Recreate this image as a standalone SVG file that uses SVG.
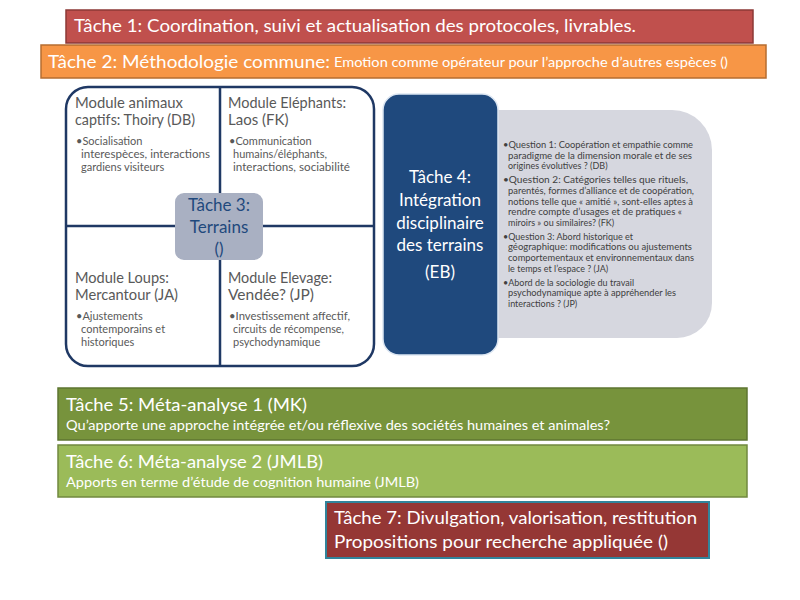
<svg xmlns="http://www.w3.org/2000/svg" width="800" height="600" viewBox="0 0 800 600">
<style>
text{font-family:Lato,"Liberation Sans",sans-serif}
.w{fill:#ffffff}
.mt{fill:#595959;font-size:15px}
.mb{fill:#595959;font-size:11px}
.q{fill:#404040;font-size:9px}
.t4{fill:#ffffff;font-size:17px;text-anchor:middle}
.t3{fill:#1f497d;font-size:17px;text-anchor:middle}
.frame{fill:none;stroke:#1f3864;stroke-width:2.5}
</style>
<rect width="800" height="600" fill="#ffffff"/>
<g id="tache1">
<rect x="66" y="10" width="687" height="33" fill="#c0504d" stroke="#8c3836" stroke-width="1.5"/>
<text x="74" y="32" class="w" font-size="18" textLength="562" lengthAdjust="spacingAndGlyphs">Tâche 1: Coordination, suivi et actualisation des protocoles, livrables.</text>
</g>
<g id="tache2">
<rect x="41" y="45" width="725" height="33" fill="#f79646" stroke="#b66d31" stroke-width="1.5"/>
<text x="48" y="68" class="w" font-size="18" textLength="282" lengthAdjust="spacingAndGlyphs">Tâche 2: Méthodologie commune:</text>
<text x="334" y="67" class="w" font-size="13" textLength="394" lengthAdjust="spacingAndGlyphs">Emotion comme opérateur pour l’approche d’autres espèces ()</text>
</g>
<g id="tache3">
<rect x="66" y="87" width="308" height="279" rx="22" class="frame"/>
<line x1="220" y1="87" x2="220" y2="366" class="frame"/>
<line x1="66" y1="226" x2="374" y2="226" class="frame"/>
<rect x="175" y="193" width="88" height="67" rx="9" fill="#a9b0c2"/>
<text x="219" y="211" class="t3">Tâche 3:</text>
<text x="219" y="233" class="t3">Terrains</text>
<text x="219" y="255" class="t3">()</text>
</g>
<g id="module-captifs">
<text x="75" y="108" class="mt" textLength="108" lengthAdjust="spacingAndGlyphs">Module animaux</text>
<text x="75" y="125" class="mt" textLength="120" lengthAdjust="spacingAndGlyphs">captifs: Thoiry (DB)</text>
<text x="76" y="145" class="mb">•Socialisation</text>
<text x="81" y="158" class="mb" textLength="129" lengthAdjust="spacingAndGlyphs">interespèces, interactions</text>
<text x="81" y="171" class="mb">gardiens visiteurs</text>
</g>
<g id="module-elephants">
<text x="228" y="108" class="mt" textLength="118" lengthAdjust="spacingAndGlyphs">Module Eléphants:</text>
<text x="228" y="125" class="mt">Laos (FK)</text>
<text x="229" y="145" class="mb">•Communication</text>
<text x="233" y="158" class="mb">humains/éléphants,</text>
<text x="233" y="171" class="mb" textLength="117" lengthAdjust="spacingAndGlyphs">interactions, sociabilité</text>
</g>
<g id="module-loups">
<text x="75" y="283" class="mt" textLength="94" lengthAdjust="spacingAndGlyphs">Module Loups:</text>
<text x="75" y="300" class="mt" textLength="103" lengthAdjust="spacingAndGlyphs">Mercantour (JA)</text>
<text x="76" y="320" class="mb">•Ajustements</text>
<text x="81" y="333" class="mb">contemporains et</text>
<text x="81" y="346" class="mb">historiques</text>
</g>
<g id="module-elevage">
<text x="228" y="283" class="mt" textLength="104" lengthAdjust="spacingAndGlyphs">Module Elevage:</text>
<text x="228" y="300" class="mt" textLength="86" lengthAdjust="spacingAndGlyphs">Vendée? (JP)</text>
<text x="229" y="320" class="mb" textLength="121" lengthAdjust="spacingAndGlyphs">•Investissement affectif,</text>
<text x="233" y="333" class="mb" textLength="111" lengthAdjust="spacingAndGlyphs">circuits de récompense,</text>
<text x="233" y="346" class="mb">psychodynamique</text>
</g>
<g id="questions">
<path d="M470 110 H672 A40 40 0 0 1 712 150 V303 A35 35 0 0 1 677 338 H470 Z" fill="#d6d7df"/>
<text x="503" y="148" class="q" textLength="190" lengthAdjust="spacingAndGlyphs">•Question 1: Coopération et empathie comme</text>
<text x="508" y="158.6" class="q" textLength="184" lengthAdjust="spacingAndGlyphs">paradigme de la dimension morale et de ses</text>
<text x="508" y="169.2" class="q">origines évolutives ? (DB)</text>
<text x="503" y="183.3" class="q" textLength="185" lengthAdjust="spacingAndGlyphs">•Question 2:  Catégories telles que rituels,</text>
<text x="508" y="193.9" class="q" textLength="186" lengthAdjust="spacingAndGlyphs">parentés, formes d’alliance et de coopération,</text>
<text x="508" y="204.5" class="q" textLength="185" lengthAdjust="spacingAndGlyphs">notions telle que « amitié », sont-elles aptes à</text>
<text x="508" y="215.1" class="q" textLength="174" lengthAdjust="spacingAndGlyphs">rendre compte d’usages et de pratiques «</text>
<text x="508" y="225.7" class="q">miroirs » ou similaires? (FK)</text>
<text x="503" y="239.8" class="q">•Question 3:  Abord historique et</text>
<text x="508" y="250.4" class="q" textLength="184" lengthAdjust="spacingAndGlyphs">géographique: modifications ou ajustements</text>
<text x="508" y="261" class="q" textLength="186" lengthAdjust="spacingAndGlyphs">comportementaux et environnementaux dans</text>
<text x="508" y="271.6" class="q">le temps et l’espace ? (JA)</text>
<text x="503" y="285.7" class="q">•Abord de la sociologie du travail</text>
<text x="508" y="296.3" class="q" textLength="168" lengthAdjust="spacingAndGlyphs">psychodynamique apte à appréhender les</text>
<text x="508" y="306.9" class="q">interactions ? (JP)</text>
</g>
<g id="tache4">
<rect x="383" y="94" width="115" height="261" rx="16" fill="#1f497d" stroke="#dce6f2" stroke-width="1.5"/>
<text x="440" y="183" class="t4">Tâche 4:</text>
<text x="440" y="206" class="t4">Intégration</text>
<text x="440" y="229" class="t4">disciplinaire</text>
<text x="440" y="251" class="t4">des terrains</text>
<text x="440" y="278" class="t4">(EB)</text>
</g>
<g id="tache5">
<rect x="58" y="388" width="689" height="52" fill="#77933c" stroke="#5e7530" stroke-width="1.5"/>
<text x="66" y="411" class="w" font-size="17" textLength="241" lengthAdjust="spacingAndGlyphs">Tâche 5: Méta-analyse 1 (MK)</text>
<text x="66" y="430" class="w" font-size="13" textLength="544" lengthAdjust="spacingAndGlyphs">Qu’apporte une approche intégrée et/ou réflexive des sociétés humaines et animales?</text>
</g>
<g id="tache6">
<rect x="58" y="445" width="689" height="52" fill="#9bbb59" stroke="#71893f" stroke-width="1.5"/>
<text x="66" y="468" class="w" font-size="17" textLength="257" lengthAdjust="spacingAndGlyphs">Tâche 6: Méta-analyse 2 (JMLB)</text>
<text x="66" y="487" class="w" font-size="13" textLength="353" lengthAdjust="spacingAndGlyphs">Apports en terme d’étude de cognition humaine (JMLB)</text>
</g>
<g id="tache7">
<rect x="326" y="502" width="383" height="56" fill="#953735" stroke="#31849b" stroke-width="2"/>
<text x="334" y="524" class="w" font-size="18" textLength="363" lengthAdjust="spacingAndGlyphs">Tâche 7: Divulgation, valorisation, restitution</text>
<text x="334" y="548" class="w" font-size="18" textLength="334" lengthAdjust="spacingAndGlyphs">Propositions pour recherche appliquée ()</text>
</g>
<g id="connectors"></g>
</svg>
